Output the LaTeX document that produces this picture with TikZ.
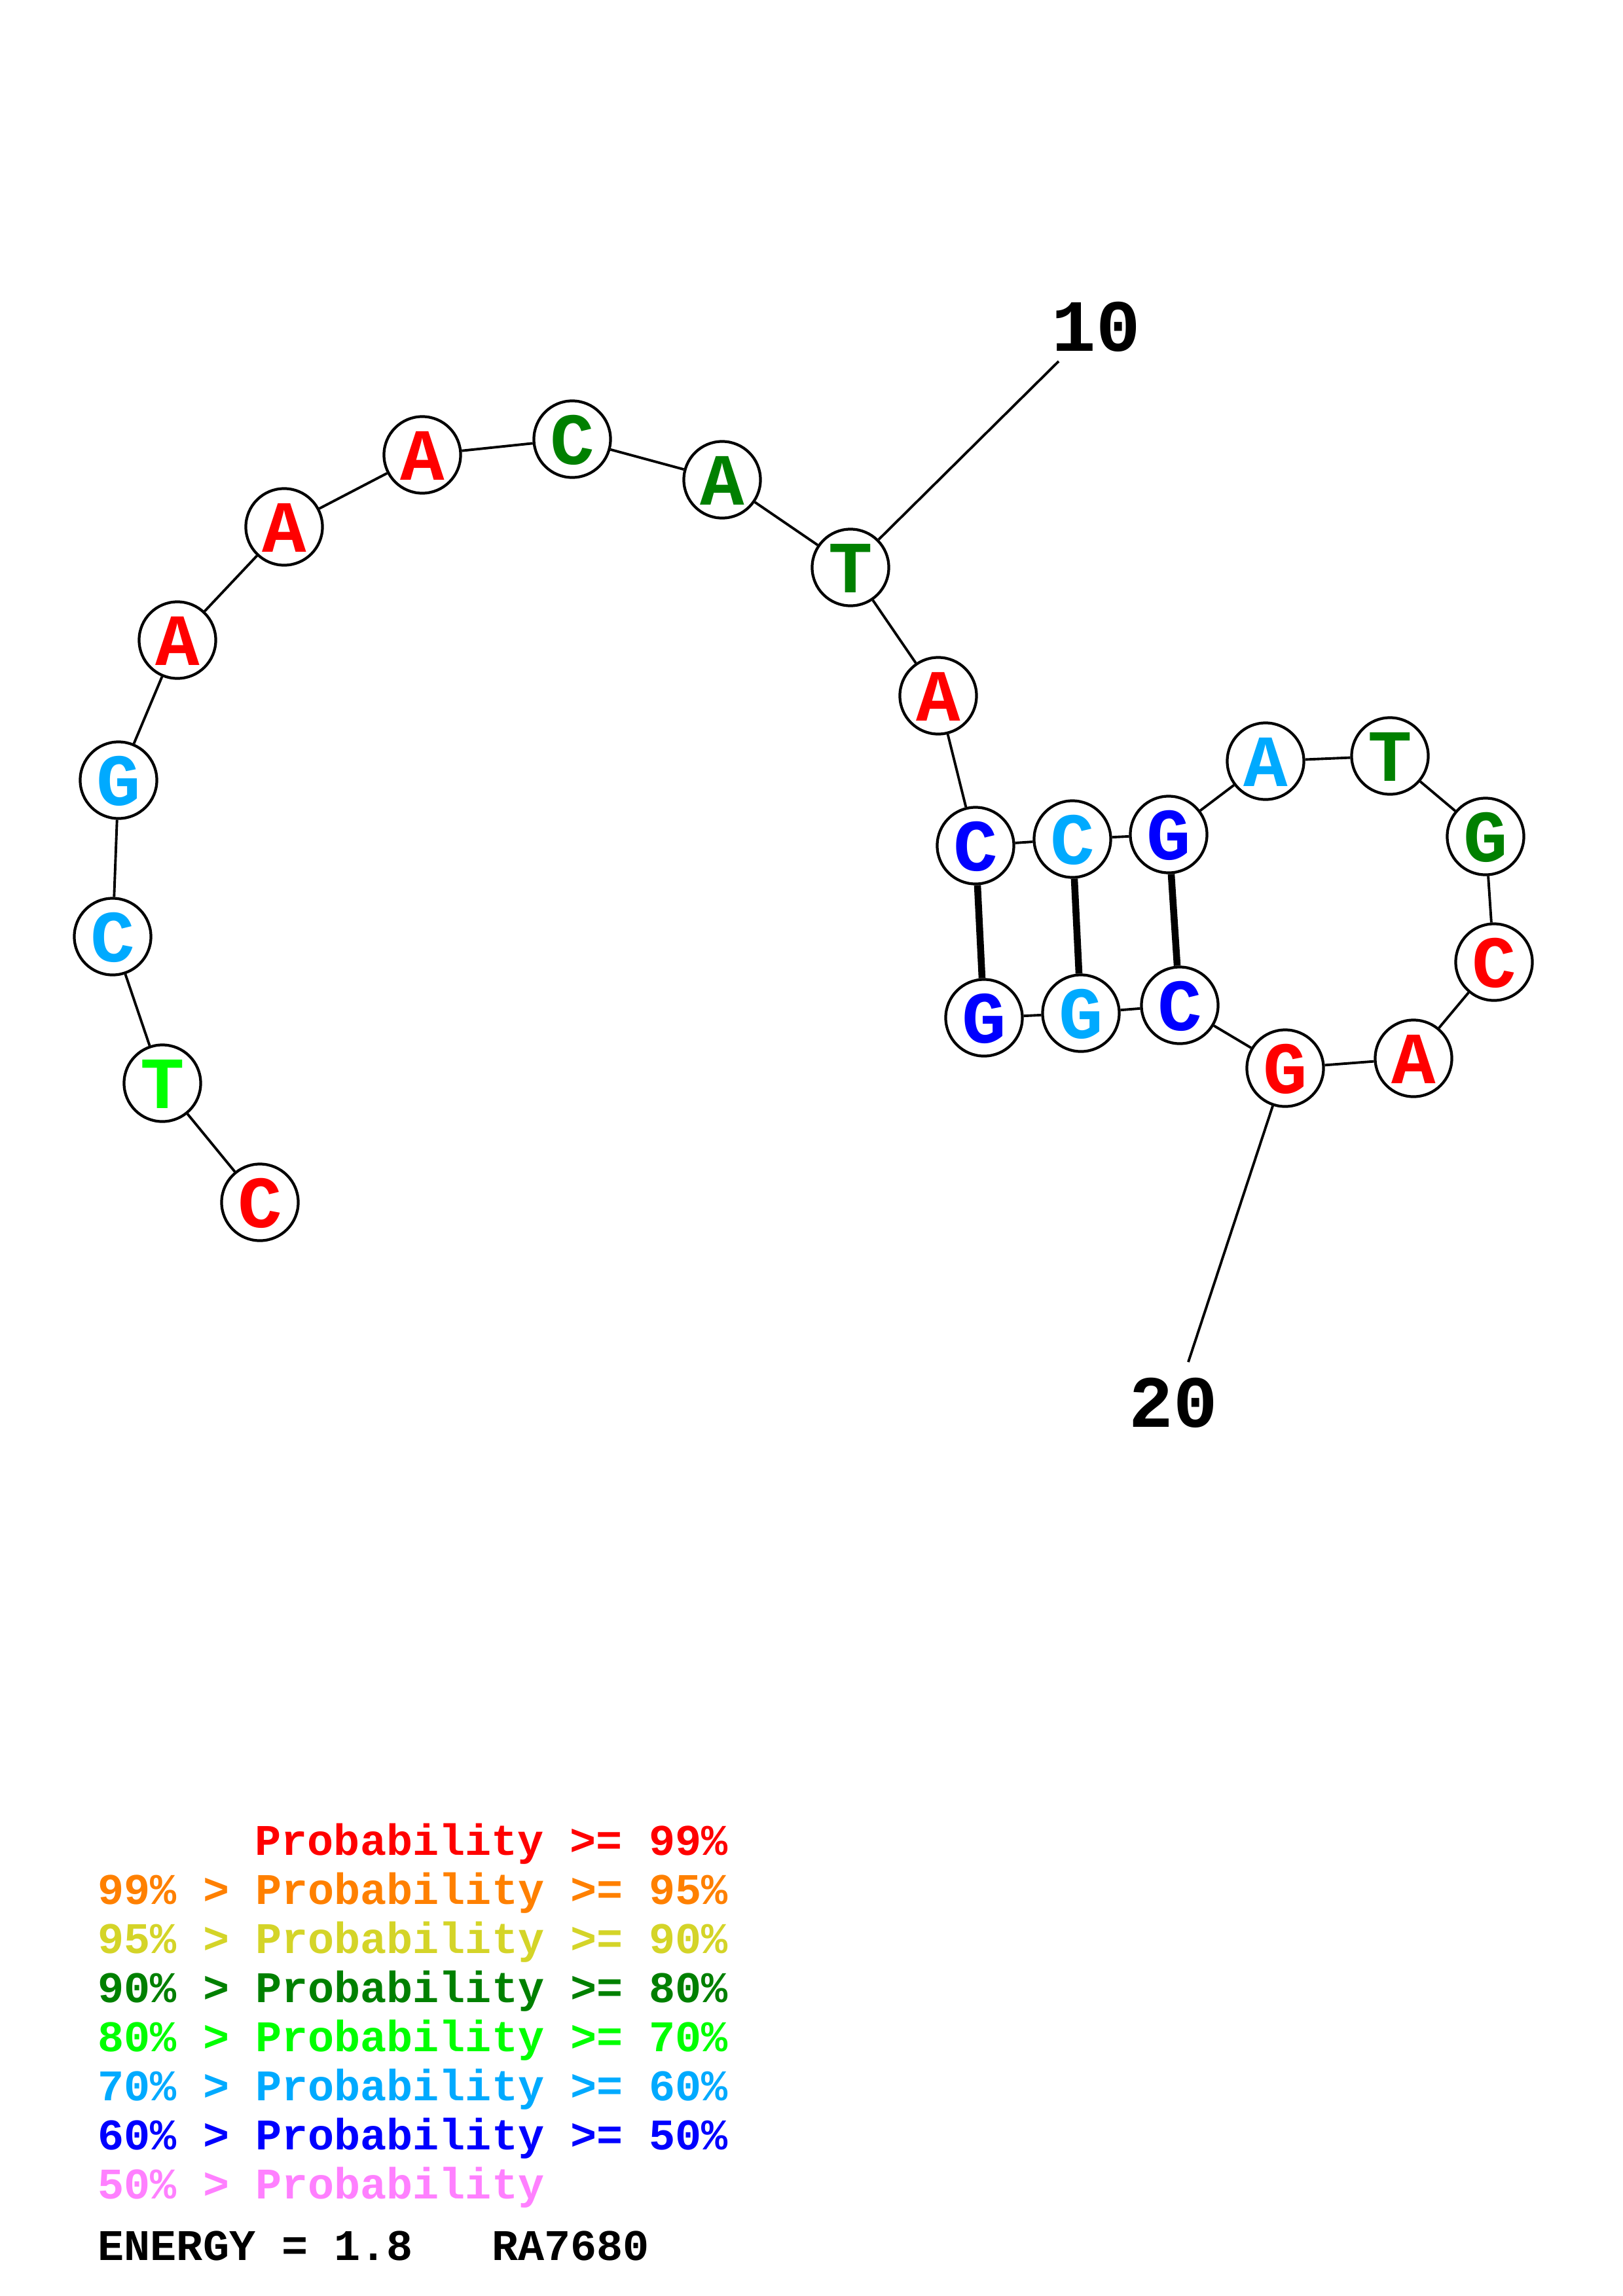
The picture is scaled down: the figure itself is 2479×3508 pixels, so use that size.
\documentclass[tikz,border=0pt]{standalone}
\usepackage{fontspec}
\setmonofont{Liberation Mono}
\usepackage{tikz}
\usetikzlibrary{positioning}
\usepackage{xcolor}
\definecolor{pred}{RGB}{255,0,0}
\definecolor{porange}{RGB}{255,128,0}
\definecolor{pyellow}{RGB}{212,212,40}
\definecolor{pgreen}{RGB}{0,128,0}
\definecolor{plime}{RGB}{0,255,0}
\definecolor{psky}{RGB}{0,170,255}
\definecolor{pblue}{RGB}{0,0,255}
\definecolor{ppink}{RGB}{255,128,255}

\begin{document}
\begin{tikzpicture}[
    x=0.01cm, y=-0.01cm,
    base/.style={circle, draw, fill=white, line width=1.2pt, minimum size=1.17cm, inner sep=0pt,
        text height=0.76cm, text depth=0cm, font=\ttfamily\bfseries\fontsize{32}{32}\selectfont},
    bb/.style={line width=1.1pt},
    pair/.style={line width=3pt},
    numlbl/.style={font=\ttfamily\bfseries\fontsize{32}{32}\selectfont},
    legend/.style={anchor=base west, inner sep=0pt, font=\ttfamily\bfseries\fontsize{19}{19}\selectfont}
]
\useasboundingbox (0,0) rectangle (2479,3508);

% bases
\node[base, text=pred]   (n1)  at (397,1837)  {C};
\node[base, text=plime]  (n2)  at (248,1655)  {T};
\node[base, text=psky]   (n3)  at (172,1431)  {C};
\node[base, text=psky]   (n4)  at (181,1192)  {G};
\node[base, text=pred]   (n5)  at (271,978)   {A};
\node[base, text=pred]   (n6)  at (434,805)   {A};
\node[base, text=pred]   (n7)  at (645,695)   {A};
\node[base, text=pgreen] (n8)  at (874,671)   {C};
\node[base, text=pgreen] (n9)  at (1103,733)  {A};
\node[base, text=pgreen] (n10) at (1299,867)  {T};
\node[base, text=pred]   (n11) at (1433,1063) {A};
\node[base, text=pblue]  (n12) at (1490,1292) {C};
\node[base, text=psky]   (n13) at (1638,1282) {C};
\node[base, text=pblue]  (n14) at (1785,1275) {G};
\node[base, text=psky]   (n15) at (1933,1163) {A};
\node[base, text=pgreen] (n16) at (2123,1155) {T};
\node[base, text=pgreen] (n17) at (2269,1278) {G};
\node[base, text=pred]   (n18) at (2282,1470) {C};
\node[base, text=pred]   (n19) at (2159,1617) {A};
\node[base, text=pred]   (n20) at (1963,1632) {G};
\node[base, text=pblue]  (n21) at (1802,1536) {C};
\node[base, text=psky]   (n22) at (1651,1548) {G};
\node[base, text=pblue]  (n23) at (1503,1555) {G};

% backbone
\draw[bb] (n1) -- (n2) -- (n3) -- (n4) -- (n5) -- (n6) -- (n7) -- (n8) -- (n9) -- (n10) -- (n11) -- (n12);
\draw[bb] (n12) -- (n13) -- (n14) -- (n15) -- (n16) -- (n17) -- (n18) -- (n19) -- (n20) -- (n21) -- (n22) -- (n23);

% pairs
\draw[pair] (n12) -- (n23);
\draw[pair] (n13) -- (n22);
\draw[pair] (n14) -- (n21);

% numbering
\coordinate (e10) at (1617,552);
\coordinate (e20) at (1815,2081);
\node[numlbl] (l10) at (1674,499) {10};
\node[numlbl] (l20) at (1792,2143) {20};
\draw[bb] (n10) -- (e10);
\draw[bb] (n20) -- (e20);

% legend
\node[legend, text=pred]    (p1) at (389,2834) {Probability >= 99\%};
\node[legend, text=porange] (p2) at (149,2909) {99\% > Probability >= 95\%};
\node[legend, text=pyellow] (p3) at (149,2984) {95\% > Probability >= 90\%};
\node[legend, text=pgreen]  (p4) at (149,3059) {90\% > Probability >= 80\%};
\node[legend, text=plime]   (p5) at (149,3134) {80\% > Probability >= 70\%};
\node[legend, text=psky]    (p6) at (149,3209) {70\% > Probability >= 60\%};
\node[legend, text=pblue]   (p7) at (149,3284) {60\% > Probability >= 50\%};
\node[legend, text=ppink]   (p8) at (149,3359) {50\% > Probability};
\node[legend]               (en) at (149,3453) {ENERGY = 1.8\ \ \ RA7680};
\end{tikzpicture}
\end{document}
